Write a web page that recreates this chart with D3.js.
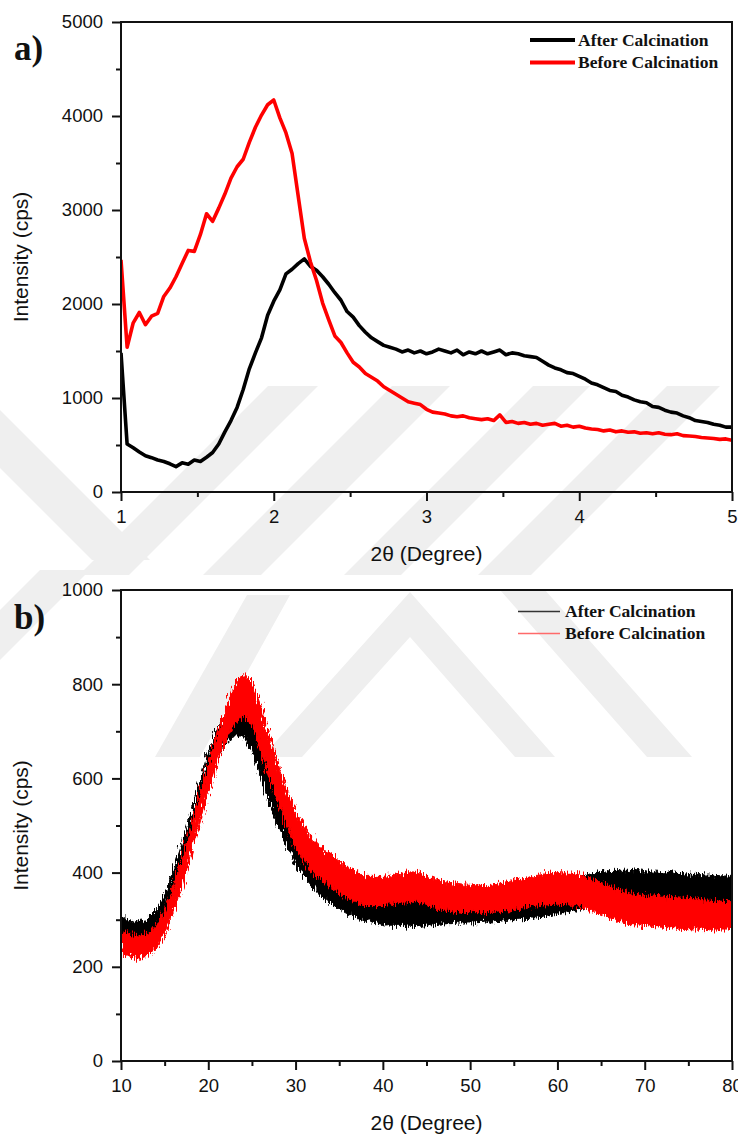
<!DOCTYPE html>
<html>
<head>
<meta charset="utf-8">
<script src="https://cdn.jsdelivr.net/npm/d3@7"></script>
<style>
  body { margin: 0; background: #fff; }
  svg text { font-family: "Liberation Sans", Arial, sans-serif; fill: #111; }
</style>
</head>
<body>
<div id="chart"></div>
<script>
// ---- data: panel a (2θ = 1..5, one value every 0.04°) ----
const aStart = 1, aStep = 0.04;
const afterA = [1480,510,470,425,385,365,340,325,300,270,310,295,340,325,370,420,510,640,760,900,
  1090,1310,1480,1640,1880,2030,2150,2320,2370,2430,2480,2400,2360,2290,2210,2120,2040,1920,1860,1770,
  1700,1640,1600,1560,1540,1520,1490,1510,1480,1500,1470,1490,1520,1500,1480,1510,1460,1490,1470,1500,
  1470,1490,1510,1460,1480,1470,1450,1440,1430,1390,1350,1320,1300,1270,1260,1230,1200,1160,1140,1110,
  1080,1070,1030,1010,980,960,950,910,900,870,850,840,810,790,760,750,740,720,710,690,690];
const beforeA = [2470,1540,1800,1910,1780,1870,1900,2080,2170,2290,2430,2570,2560,2740,2960,2880,3020,3170,3340,3460,
  3540,3720,3880,4010,4120,4170,3980,3820,3600,3150,2700,2450,2250,2010,1830,1660,1590,1480,1380,1330,
  1260,1220,1180,1120,1080,1040,1000,960,945,930,880,850,840,830,810,800,810,790,780,770,
  780,760,820,740,750,730,740,720,730,710,720,730,700,710,690,700,680,670,665,650,
  660,640,650,635,640,625,630,620,630,615,610,620,600,595,590,580,575,570,560,565,550];

// ---- data: panel b (2θ = 10..80, noise band low/high every 1°) ----
const bStart = 10;
const afterLoB = [262,255,250,258,272,300,345,400,462,525,590,640,672,690,690,660,600,548,500,455,
  418,392,368,350,335,322,312,304,298,294,290,288,288,286,285,288,290,291,292,293,
  293,294,295,296,298,300,302,303,305,308,312,316,320,324,328,330,332,331,330,330,
  330,329,328,327,326,326,325,324,322,321,320];
const afterHiB = [305,300,295,302,320,352,405,462,525,590,655,705,735,755,755,735,695,640,590,535,
  490,462,438,415,398,382,370,362,355,350,345,346,345,347,345,346,345,348,348,350,
  350,351,352,354,355,358,362,366,370,375,380,385,390,394,398,402,404,405,405,404,
  402,401,400,399,398,397,396,395,394,393,392];
const beforeLoB = [228,222,218,222,238,268,315,370,440,505,570,630,680,715,735,715,655,598,545,495,
  452,422,398,382,370,356,345,336,330,330,330,332,335,336,338,332,325,321,318,316,
  315,315,315,316,318,321,325,328,330,332,333,332,330,324,318,312,305,297,290,289,
  288,286,284,283,282,281,280,279,278,278,278];
const beforeHiB = [275,270,265,268,288,318,372,430,500,565,635,695,745,800,822,805,755,690,630,578,
  530,498,470,452,438,424,412,400,392,392,392,395,398,402,400,392,385,381,378,376,
  375,373,372,376,380,384,388,392,395,398,400,399,398,392,385,378,372,365,358,355,
  352,350,348,347,346,345,344,342,340,339,338];

const seriesNames = ['After Calcination', 'Before Calcination'];
const seriesColors = ['#000000', '#ff0000'];

const yTicksA = [0,1000,2000,3000,4000,5000], yMinorA = [500,1500,2500,3500,4500];
const xTicksA = [1,2,3,4,5], xMinorA = [1.5,2.5,3.5,4.5];
const yTicksB = [0,200,400,600,800,1000], yMinorB = [100,300,500,700,900];
const xTicksB = [10,20,30,40,50,60,70,80], xMinorB = [15,25,35,45,55,65,75];

// ---- canvas ----
const W = 738, H = 1138;
const left = 121, right = 732;
const svg = d3.select('#chart').append('svg').attr('width', W).attr('height', H);

// jagged edges for the noisy scans of panel b
const defs = svg.append('defs');
const rough = defs.append('filter').attr('id', 'rough')
  .attr('x', '-2%').attr('y', '-15%').attr('width', '104%').attr('height', '130%');
rough.append('feTurbulence').attr('type', 'fractalNoise').attr('baseFrequency', '0.9 0.12')
  .attr('numOctaves', 2).attr('seed', 4).attr('result', 'noise');
rough.append('feDisplacementMap').attr('in', 'SourceGraphic').attr('in2', 'noise')
  .attr('scale', 13).attr('xChannelSelector', 'R').attr('yChannelSelector', 'G');

// faint background watermark
const wm = svg.append('g').attr('fill', '#efefef');
[
  [[268,386],[318,386],[129,575],[79,575]],
  [[392,386],[450,386],[261,575],[203,575]],
  [[533,386],[590,386],[401,575],[344,575]],
  [[667,386],[720,386],[531,575],[478,575]],
  [[0,410],[0,468],[92,560],[150,560]],
  [[155,757],[200,757],[290,595],[247,595]],
  [[262,757],[410,592],[555,757],[515,757],[410,637],[302,757]],
  [[500,590],[545,590],[692,757],[647,757]],
  [[0,660],[0,610],[40,570],[90,570]]
].forEach(p => wm.append('polygon').attr('points', p.map(d => d.join(',')).join(' ')));

function panel(cfg) {
  const x = d3.scaleLinear().domain(cfg.xDomain).range([left, right]);
  const y = d3.scaleLinear().domain(cfg.yDomain).range([cfg.bottom, cfg.top]);
  const g = svg.append('g');

  const clip = defs.append('clipPath').attr('id', cfg.id);
  clip.append('rect').attr('x', left).attr('y', cfg.top)
    .attr('width', right - left).attr('height', cfg.bottom - cfg.top);
  cfg.draw(g.append('g').attr('clip-path', `url(#${cfg.id})`), x, y);

  // axes
  const fmt = d3.format('d');
  g.append('g').attr('transform', `translate(${left},0)`)
    .call(d3.axisLeft(y).tickValues(cfg.yTicks).tickFormat(fmt).tickSize(9).tickPadding(9).tickSizeOuter(0));
  g.append('g').attr('transform', `translate(${left},0)`)
    .call(d3.axisLeft(y).tickValues(cfg.yMinor).tickSize(5).tickFormat('').tickSizeOuter(0));
  g.append('g').attr('transform', `translate(0,${cfg.bottom})`)
    .call(d3.axisBottom(x).tickValues(cfg.xTicks).tickFormat(fmt).tickSize(9).tickPadding(9).tickSizeOuter(0));
  g.append('g').attr('transform', `translate(0,${cfg.bottom})`)
    .call(d3.axisBottom(x).tickValues(cfg.xMinor).tickSize(5).tickFormat('').tickSizeOuter(0));
  g.selectAll('.domain').remove();
  g.selectAll('.tick line').attr('stroke', '#111').attr('stroke-width', 2);
  g.selectAll('.tick text').attr('fill', '#111').style('font-size', '18.5px')
    .style('font-family', '"Liberation Sans", Arial, sans-serif');

  g.append('rect').attr('x', left).attr('y', cfg.top)
    .attr('width', right - left).attr('height', cfg.bottom - cfg.top)
    .attr('fill', 'none').attr('stroke', '#111').attr('stroke-width', 2);

  // titles
  g.append('text').attr('transform', `translate(28,${(cfg.top + cfg.bottom) / 2}) rotate(-90)`)
    .attr('text-anchor', 'middle').style('font-size', '21px').text('Intensity (cps)');
  g.append('text').attr('x', (left + right) / 2).attr('y', cfg.bottom + 69)
    .attr('text-anchor', 'middle').style('font-size', '21px').text('2θ (Degree)');
  g.append('text').attr('x', 14).attr('y', cfg.labelY)
    .style('font-family', '"Liberation Serif", "Times New Roman", serif')
    .style('font-weight', 'bold').style('font-size', '35px').text(cfg.label);

  // legend
  const lg = g.append('g');
  seriesNames.forEach((name, i) => {
    const ly = cfg.legend.y + i * cfg.legend.dy;
    lg.append('line').attr('x1', cfg.legend.x1).attr('x2', cfg.legend.x2)
      .attr('y1', ly).attr('y2', ly)
      .attr('stroke', cfg.legend.colors[i]).attr('stroke-width', cfg.legend.w);
    lg.append('text').attr('x', cfg.legend.tx).attr('y', ly + 5.5)
      .style('font-family', '"Liberation Serif", "Times New Roman", serif')
      .style('font-weight', 'bold').style('font-size', '17.5px').text(name);
  });
}

// panel a
panel({
  id: 'clipA', top: 22, bottom: 492, xDomain: [1, 5], yDomain: [0, 5000],
  yTicks: yTicksA, yMinor: yMinorA, xTicks: xTicksA, xMinor: xMinorA,
  label: 'a)', labelY: 60,
  legend: { x1: 530, x2: 575, tx: 578, y: 40, dy: 22.5, w: 4, colors: seriesColors },
  draw: (g, x, y) => {
    const line = d3.line().x((d, i) => x(aStart + i * aStep)).y(d => y(d));
    [afterA, beforeA].forEach((s, k) => {
      g.append('path').datum(s).attr('d', line).attr('fill', 'none')
        .attr('stroke', seriesColors[k]).attr('stroke-width', 3.6)
        .attr('stroke-linejoin', 'round');
    });
  }
});

// panel b
panel({
  id: 'clipB', top: 590, bottom: 1061, xDomain: [10, 80], yDomain: [0, 1000],
  yTicks: yTicksB, yMinor: yMinorB, xTicks: xTicksB, xMinor: xMinorB,
  label: 'b)', labelY: 629,
  legend: { x1: 518, x2: 560, tx: 565, y: 611.5, dy: 22, w: 1.4, colors: ['#333333', '#ff6a6a'] },
  draw: (g, x, y) => {
    const bands = [[afterLoB, afterHiB], [beforeLoB, beforeHiB]];
    bands.forEach(([lo, hi], k) => {
      const area = d3.area()
        .x((d, i) => x(bStart + i))
        .y0((d, i) => y(lo[i]))
        .y1((d, i) => y(hi[i]));
      g.append('path').datum(lo).attr('d', area)
        .attr('fill', seriesColors[k]).attr('stroke', seriesColors[k])
        .attr('stroke-width', 1).attr('stroke-linejoin', 'round')
        .attr('filter', 'url(#rough)');
    });
  }
});
</script>
</body>
</html>
